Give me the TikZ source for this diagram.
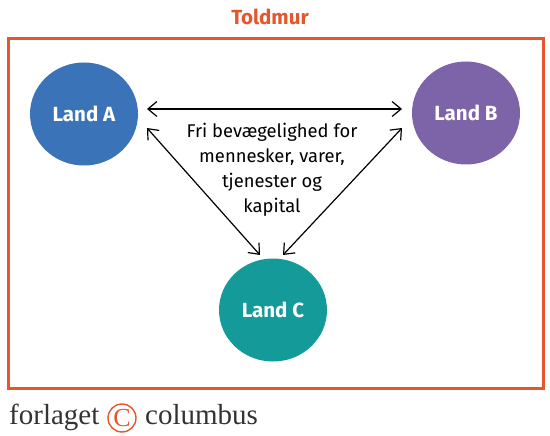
\documentclass[tikz,border=0pt]{standalone}
\usepackage{fontspec}
\setmainfont{Fira Sans}
\newfontfamily\logofont{Liberation Serif}
\usetikzlibrary{arrows.meta,shapes.geometric}
\definecolor{wallc}{HTML}{E4572E}
\definecolor{cA}{HTML}{3A73B8}
\definecolor{cB}{HTML}{7D63A8}
\definecolor{cC}{HTML}{159A9A}
\definecolor{logoc}{HTML}{333333}
\begin{document}
\begin{tikzpicture}[x=1pt,y=-1pt,
  land/.style={ellipse, minimum width=108pt, minimum height=103pt, inner sep=0pt, text=white, font=\fontsize{20.5}{22}\selectfont\bfseries},
  link/.style={draw, line width=1.2pt, {Straight Barb[length=9pt,width=15pt]}-{Straight Barb[length=9pt,width=15pt]}},
  logotext/.style={inner sep=0pt, font=\fontsize{29}{30}\selectfont\logofont, text=logoc}]
\useasboundingbox (0,0) rectangle (550,436);
\node[font=\fontsize{20.5}{22}\selectfont\bfseries, text=wallc] (title) at (270,17) {Toldmur};
\draw[wallc, line width=3pt] (8,39) rectangle (543,388);
\node[land, fill=cA] (A) at (84,114) {Land A};
\node[land, fill=cB] (B) at (466,113) {Land B};
\node[land, fill=cC] (C) at (273,310) {Land C};
\coordinate (a1) at (147,109); \coordinate (b1) at (402,109);
\coordinate (a2) at (147,128); \coordinate (c2) at (260,255);
\coordinate (b3) at (402,128); \coordinate (c3) at (283,255);
\draw[link] (a1) -- (b1);
\draw[link] (a2) -- (c2);
\draw[link] (b3) -- (c3);
\node[align=center, font=\fontsize{18.4}{25}\selectfont] (txt) at (272,170) {Fri bevægelighed for\\mennesker, varer,\\tjenester og\\kapital};
\node[logotext, anchor=base west] (logo1) at (9,424) {forlaget};
\node[draw=wallc, line width=1.4pt, circle, minimum size=28pt, inner sep=0pt, text=wallc, font=\fontsize{26}{26}\selectfont\logofont] (copy) at (122,418) {C};
\node[logotext, anchor=base west] (logo2) at (145,424) {columbus};
\end{tikzpicture}
\end{document}
